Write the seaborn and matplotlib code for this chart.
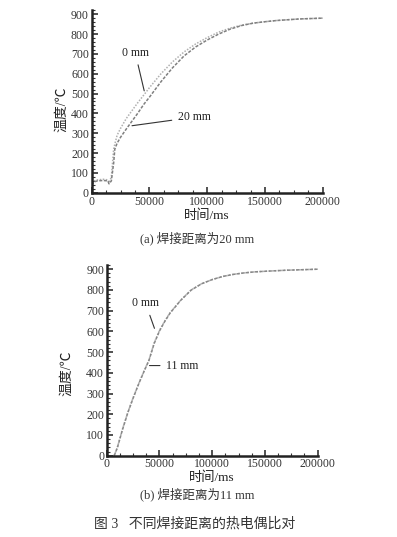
import matplotlib
matplotlib.use("Agg")
import matplotlib.pyplot as plt
import seaborn as sns
import pandas as pd
from matplotlib.ticker import MultipleLocator

# (a) welding distance 20 mm
t_a = [0, 2000, 5000, 10000, 14000, 15000, 17000, 19000, 20000, 22000, 25000, 30000,
       35000, 40000, 45000, 50000, 60000, 70000, 80000, 90000, 100000, 110000,
       120000, 130000, 140000, 150000, 160000, 170000, 180000, 190000, 200000]
a_0mm = [30, 60, 65, 68, 65, 50, 80, 220, 245, 290, 325, 375, 415, 455, 492, 530, 600,
         660, 710, 750, 782, 810, 830, 845, 855, 862, 868, 872, 876, 878, 880]
a_20mm = [40, 55, 60, 62, 60, 45, 60, 150, 220, 250, 280, 322, 362, 402, 445, 482, 560,
          630, 690, 735, 770, 800, 825, 843, 855, 862, 868, 872, 876, 878, 880]

# (b) welding distance 11 mm
t_b = [7000, 10000, 15000, 20000, 25000, 30000, 35000, 40000, 45000, 50000, 55000,
       60000, 70000, 80000, 90000, 100000, 110000, 120000, 130000, 140000, 150000,
       170000, 200000]
b_0mm = [0, 40, 130, 210, 280, 345, 405, 462, 545, 605, 650, 690, 750, 800, 830, 850,
         865, 875, 882, 887, 890, 895, 900]
b_11mm = [0, 38, 128, 208, 278, 343, 403, 460, 542, 602, 648, 688, 749, 799, 830, 850,
          865, 875, 882, 887, 890, 895, 900]

sns.set_style("ticks")
fam = ["Liberation Serif", "Noto Sans CJK SC", "DejaVu Sans"]
plt.rcParams["font.family"] = fam

fig = plt.figure(figsize=(3.97, 5.37), dpi=100)
ax1 = fig.add_axes([0.231, 0.641, 0.582, 0.340])
ax2 = fig.add_axes([0.269, 0.1514, 0.531, 0.355])

df_a = pd.DataFrame({"t": t_a + t_a, "T": a_0mm + a_20mm,
                     "s": ["0 mm"] * len(t_a) + ["20 mm"] * len(t_a)})
df_b = pd.DataFrame({"t": t_b + t_b, "T": b_0mm + b_11mm,
                     "s": ["0 mm"] * len(t_b) + ["11 mm"] * len(t_b)})

sns.lineplot(data=df_a, x="t", y="T", hue="s", style="s",
             palette=["#b0b0b0", "#808080"], dashes=[(1, 1), (2, 1)],
             linewidth=1.1, legend=False, ax=ax1)
sns.lineplot(data=df_b, x="t", y="T", hue="s", style="s",
             palette=["#b0b0b0", "#888888"], dashes=[(1, 1), (2, 1)],
             linewidth=1.1, legend=False, ax=ax2)

for ax in (ax1, ax2):
    ax.set_xlim(0, 200000)
    ax.set_ylim(0, 920)
    ax.set_xticks([0, 50000, 100000, 150000, 200000])
    ax.set_yticks(range(0, 901, 100))
    ax.yaxis.set_minor_locator(MultipleLocator(20))
    ax.xaxis.set_minor_locator(MultipleLocator(12500))
    ax.tick_params(which="major", direction="in", length=4, width=1.2,
                   labelsize=8.5, colors="#333333", pad=2)
    ax.tick_params(which="minor", direction="in", length=2, width=0.8, colors="#333333")
    for sp in ("top", "right"):
        ax.spines[sp].set_visible(False)
    for sp in ("left", "bottom"):
        ax.spines[sp].set_linewidth(1.8)
        ax.spines[sp].set_color("#222222")
    ax.set_xlabel("时间/ms", fontsize=9.5, labelpad=1, color="#222222")
    ax.set_ylabel("温度/℃", fontsize=10, color="#222222")

ax1.yaxis.set_label_coords(-0.103, 0.46)
ax2.yaxis.set_label_coords(-0.16, 0.43)

kw = dict(arrowprops=dict(arrowstyle="-", color="#333333", lw=0.8),
          fontsize=8.5, color="#222222")
ax1.annotate("0 mm", xy=(46000, 500), xytext=(26000, 705), ha="left", va="center", **kw)
ax1.annotate("20 mm", xy=(32500, 336), xytext=(74500, 381), ha="left", va="center", **kw)
ax2.annotate("0 mm", xy=(46100, 602), xytext=(24000, 735), ha="left", va="center", **kw)
ax2.annotate("11 mm", xy=(37900, 435), xytext=(56200, 435), ha="left", va="center", **kw)

fig.text(0.497, 0.548, "(a) 焊接距离为20 mm", ha="center", fontsize=9, color="#333333")
fig.text(0.497, 0.073, "(b) 焊接距离为11 mm", ha="center", fontsize=9, color="#333333")
fig.text(0.489, 0.018, "图 3   不同焊接距离的热电偶比对", ha="center", fontsize=10,
         color="#333333")

fig.savefig("out.png", dpi=100, facecolor="white")
